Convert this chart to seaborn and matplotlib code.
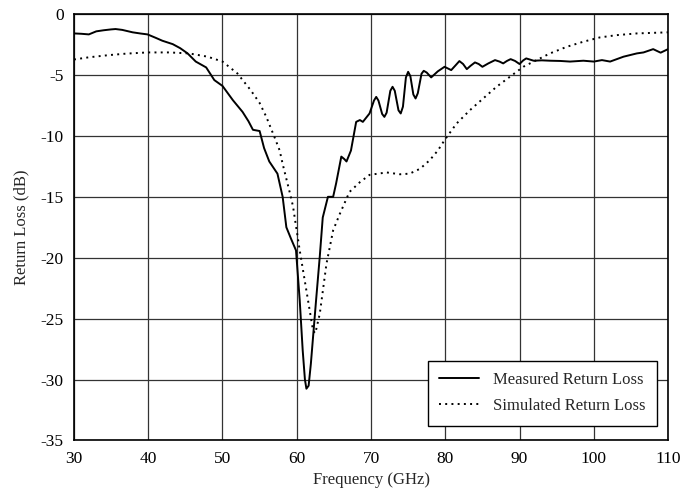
import matplotlib
matplotlib.use("Agg")

import matplotlib.pyplot as plt
import seaborn as sns

output_filename = "out.png"

# measured return loss (dB) vs frequency (GHz)
meas_freq = [30.0, 31.0, 32.0, 33.0, 34.0, 35.0, 35.6, 36.5, 37.9, 39.0, 39.9, 41.0,
             41.9, 43.3, 44.3, 45.3, 46.4, 47.8, 48.9, 50.0, 51.4, 52.7, 53.5, 54.1,
             55.0, 55.6, 56.3, 57.4, 58.1, 58.6, 59.2, 59.9, 60.4, 60.8, 61.1, 61.3,
             61.6, 61.9, 62.6, 63.1, 63.5, 64.2, 64.9, 65.3, 66.0, 66.4, 66.7, 67.3,
             68.0, 68.5, 68.9, 69.8, 70.4, 70.7, 71.0, 71.5, 71.8, 72.1, 72.6, 72.9,
             73.2, 73.7, 74.0, 74.3, 74.7, 75.0, 75.3, 75.7, 76.0, 76.3, 76.8, 77.1,
             77.5, 78.1, 79.0, 79.9, 80.8, 81.4, 81.9, 82.4, 82.9, 83.4, 84.0, 84.5,
             85.0, 85.8, 86.7, 87.3, 87.8, 88.3, 88.8, 89.4, 90.0, 90.5, 90.9, 91.9,
             93.0, 94.1, 95.5, 96.8, 98.6, 100.0, 101.1, 102.2, 104.0, 105.8, 106.7,
             108.0, 109.0, 110.0]
meas_loss = [-1.59, -1.62, -1.67, -1.42, -1.33, -1.26, -1.23, -1.30, -1.50, -1.60, -1.67, -1.95,
             -2.19, -2.47, -2.80, -3.23, -3.90, -4.38, -5.42, -5.90, -7.07, -8.03, -8.80, -9.50,
             -9.60, -11.0, -12.1, -13.1, -15.0, -17.5, -18.4, -19.4, -23.5, -27.6, -30.0, -30.75,
             -30.5, -28.7, -23.5, -19.9, -16.7, -15.0, -15.0, -13.9, -11.7, -11.9, -12.1, -11.2,
             -8.85, -8.70, -8.85, -8.16, -7.10, -6.80, -7.10, -8.20, -8.44, -8.10, -6.30, -5.97,
             -6.30, -7.90, -8.16, -7.60, -5.20, -4.74, -5.10, -6.60, -6.93, -6.50, -4.90, -4.66,
             -4.80, -5.20, -4.70, -4.33, -4.60, -4.20, -3.86, -4.10, -4.52, -4.25, -3.97, -4.10,
             -4.33, -4.05, -3.78, -3.90, -4.05, -3.85, -3.70, -3.85, -4.10, -3.80, -3.64, -3.83,
             -3.80, -3.83, -3.85, -3.90, -3.83, -3.90, -3.78, -3.90, -3.50, -3.23, -3.15,
             -2.88, -3.17, -2.88]

# simulated return loss (dB) vs frequency (GHz)
sim_freq = [30.0, 32.0, 34.7, 37.0, 39.9, 42.8, 45.5, 48.0, 50.0, 52.0, 53.8, 55.0,
            55.9, 57.0, 57.7, 58.1, 59.2, 59.5, 60.4, 61.3, 62.2, 62.5, 63.1, 64.0,
            64.9, 65.8, 67.1, 68.5, 69.8, 72.1, 73.9, 75.2, 76.6, 77.9, 79.0, 79.9,
            81.5, 83.3, 85.1, 86.9, 88.7, 90.5, 92.3, 94.1, 96.4, 98.6, 100.8, 103.1,
            105.8, 110.0]
sim_loss = [-3.73, -3.55, -3.37, -3.25, -3.15, -3.15, -3.23, -3.50, -3.90, -4.87, -6.25, -7.30,
            -8.44, -10.1, -11.2, -12.3, -15.0, -15.8, -19.4, -22.7, -26.0, -26.2, -24.6, -20.5,
            -17.75, -16.4, -14.6, -13.8, -13.2, -13.0, -13.15, -13.1, -12.7, -12.0, -11.2, -10.35,
            -9.0, -7.9, -6.93, -5.97, -5.15, -4.33, -3.78, -3.23, -2.68, -2.27, -1.92, -1.73,
            -1.59, -1.50]

sns.set_style("white")
plt.rcParams["font.family"] = ["Liberation Serif", "DejaVu Serif"]
plt.rcParams["axes.unicode_minus"] = False

fig = plt.figure(figsize=(6.94, 4.93), dpi=100)
ax = fig.add_axes([0.1066, 0.1065, 0.856, 0.865])

sns.lineplot(x=meas_freq, y=meas_loss, color="black", linewidth=1.4,
             label="Measured Return Loss", ax=ax, sort=False)
sns.lineplot(x=sim_freq, y=sim_loss, color="black", linewidth=1.4,
             label="Simulated Return Loss", ax=ax, sort=False)
ax.lines[1].set_dashes((1, 2.2))

ax.set_xlim(30, 110)
ax.set_ylim(-35, 0)
ax.set_xticks(range(30, 111, 10))
ax.set_yticks(range(-35, 1, 5))
ax.grid(True, color="#333333", linewidth=0.9)
ax.set_axisbelow(True)
for s in ax.spines.values():
    s.set_color("black")
    s.set_linewidth(1.2)
ax.tick_params(direction="out", length=4, width=1, colors="black", labelsize=12.5)

ax.set_xlabel("Frequency (GHz)", fontsize=12)
ax.set_ylabel("Return Loss (dB)", fontsize=12, labelpad=8)

leg = ax.legend(loc="lower right", bbox_to_anchor=(0.981, 0.034), fontsize=12,
                frameon=True, fancybox=False, framealpha=1, edgecolor="black",
                handlelength=2.4, borderpad=0.7, labelspacing=0.6, borderaxespad=0)
leg.get_frame().set_linewidth(1.0)
leg.set_zorder(5)

plt.savefig(output_filename, dpi=100)
